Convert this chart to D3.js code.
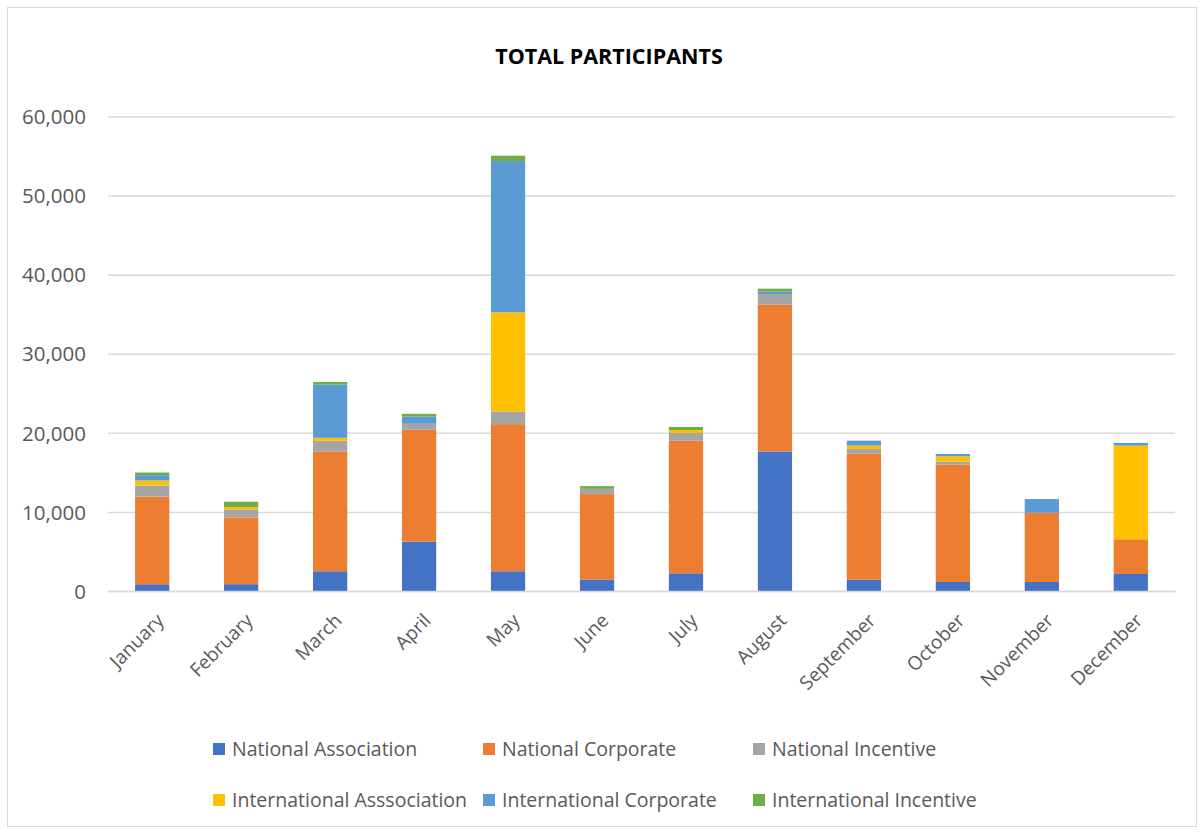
<!DOCTYPE html>
<html><head><meta charset="utf-8">
<script src="https://cdn.jsdelivr.net/npm/d3@7"></script>
<style>body{margin:0;background:#fff;} text{font-family:"Open Sans",sans-serif;}</style>
</head><body>
<svg id="chart" width="1204" height="834"></svg>
<script>
const months = ["January","February","March","April","May","June","July","August","September","October","November","December"];
const seriesNames = ["National Association","National Corporate","National Incentive","International Asssociation","International Corporate","International Incentive"];
const colors = ["#4472C4","#ED7D31","#A5A5A5","#FFC000","#5B9BD5","#70AD47"];
const nationalAssociation = [850, 860, 2500, 6250, 2500, 1450, 2240, 17640, 1430, 1140, 1140, 2150];
const nationalCorporate = [11100, 8450, 15140, 14130, 18600, 10800, 16760, 18560, 15940, 14830, 8760, 4390];
const nationalIncentive = [1390, 1010, 1350, 760, 1600, 670, 980, 1360, 590, 380, 0, 0];
const internationalAssociation = [630, 300, 380, 0, 12530, 0, 380, 0, 420, 680, 0, 11840];
const internationalCorporate = [680, 0, 6730, 920, 19130, 0, 0, 290, 630, 290, 1730, 340];
const internationalIncentive = [330, 670, 330, 340, 680, 340, 380, 380, 0, 0, 0, 0];
const yTicks = [0, 10000, 20000, 30000, 40000, 50000, 60000];

const seriesValues = [nationalAssociation, nationalCorporate, nationalIncentive, internationalAssociation, internationalCorporate, internationalIncentive];
const table = months.map((m, i) => {
  const row = {month: m};
  seriesNames.forEach((s, j) => row[s] = seriesValues[j][i]);
  return row;
});

const FONT = "'Open Sans',sans-serif";
const svg = d3.select("#chart");
svg.append("rect").attr("x", 7.5).attr("y", 7.5).attr("width", 1189).attr("height", 819)
  .attr("fill", "#fff").attr("stroke", "#D9D9D9").attr("stroke-width", 1);

const x = d3.scaleBand().domain(months).range([107.5, 1175.5]).paddingInner(0.615).paddingOuter(0.31);
const y = d3.scaleLinear().domain([0, 60000]).range([591, 116.5]);

svg.append("text").attr("x", 609).attr("y", 64).attr("text-anchor", "middle")
  .attr("font-size", 21.5).attr("font-weight", "bold").attr("fill", "#000").text("TOTAL PARTICIPANTS");

// grid
const grid = svg.append("g").attr("transform", "translate(108,0)")
  .call(d3.axisLeft(y).tickValues(yTicks).tickSize(-1067).tickFormat(""));
grid.select(".domain").remove();
grid.selectAll("line").attr("stroke", "#D9D9D9").attr("stroke-width", 1.5);

// y labels
const yl = svg.append("g").attr("transform", "translate(89,0)")
  .call(d3.axisLeft(y).tickValues(yTicks).tickSize(0).tickFormat(d3.format(",")));
yl.select(".domain").remove();
yl.selectAll("text").attr("font-size", 20.5).attr("fill", "#595959").attr("font-family", FONT).attr("dy", "0.35em");

const stack = d3.stack().keys(seriesNames)(table);
svg.append("g").selectAll("g").data(stack).join("g")
  .attr("fill", (d, i) => colors[i])
  .selectAll("rect").data(d => d).join("rect")
  .attr("x", d => x(d.data.month))
  .attr("width", x.bandwidth())
  .attr("y", d => y(d[1]))
  .attr("height", d => Math.max(0, y(d[0]) - y(d[1])));

// x labels
const xl = svg.append("g").attr("transform", "translate(0,591)")
  .call(d3.axisBottom(x).tickSize(0));
xl.select(".domain").attr("stroke", "#D9D9D9").attr("stroke-width", 1.5);
xl.selectAll("text").attr("font-size", 19).attr("fill", "#595959").attr("font-family", FONT)
  .attr("text-anchor", "end").attr("dy", "0.35em")
  .attr("transform", "translate(6,24) rotate(-45)");

// legend
const leg = svg.append("g");
const lx = [213, 483, 753], ly = [749, 800];
seriesNames.forEach((s, i) => {
  const gx = lx[i % 3], gy = ly[Math.floor(i / 3)];
  leg.append("rect").attr("x", gx).attr("y", gy - 6).attr("width", 12).attr("height", 12).attr("fill", colors[i]);
  leg.append("text").attr("x", gx + 19).attr("y", gy).attr("dy", "0.35em").attr("font-size", 19.5)
    .attr("fill", "#595959").text(s);
});
</script>
</body></html>
